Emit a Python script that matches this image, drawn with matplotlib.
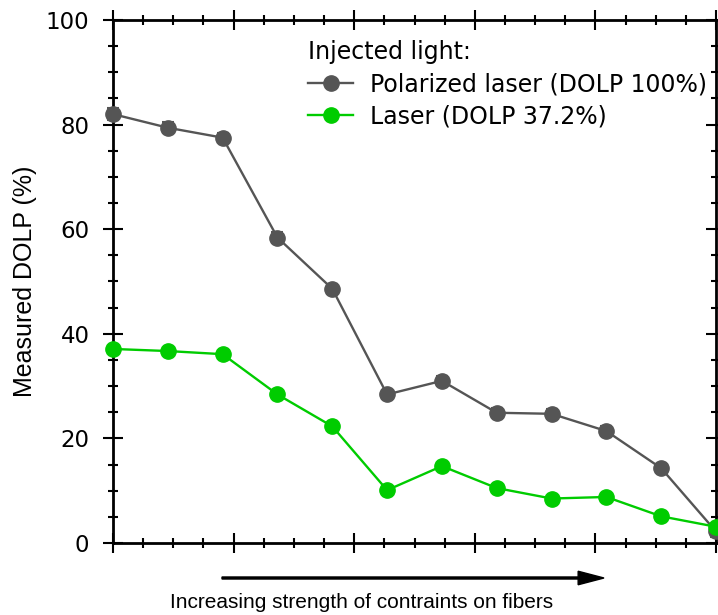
import numpy as np
import matplotlib
matplotlib.use('Agg')
import matplotlib.pyplot as plt
from matplotlib.lines import Line2D

#===================
# Datos
#===================
steps = np.arange(12)
polarized = [82.0, 79.4, 77.5, 58.4, 48.6, 28.4, 31.0, 24.9, 24.7, 21.4, 14.3, 2.2]
polarized_err = [1.2, 1.0, 0.9, 1.0, 1.0, 0.9, 1.0, 0.9, 0.9, 0.9, 0.8, 1.0]
laser = [37.1, 36.7, 36.1, 28.4, 22.3, 10.1, 14.7, 10.5, 8.5, 8.8, 5.1, 3.1]

label_pol = 'Polarized laser (DOLP 100%)'
label_las = 'Laser (DOLP 37.2%)'
gray = '#555555'
green = '#00cc00'

plt.rcParams['font.family'] = 'DejaVu Sans'

#===================
# Figura
#===================
fig = plt.figure(figsize=(7.18, 6.15), dpi=100)
ax = fig.add_axes([0.1574, 0.1171, 0.8398, 0.8504])

ax.errorbar(steps, polarized, yerr=polarized_err, color=gray, marker='o', ms=11,
            lw=1.7, capsize=4.5, capthick=1.5, elinewidth=1.5,
            clip_on=False, zorder=3)
ax.plot(steps, laser, color=green, marker='o', ms=11, lw=1.7,
        clip_on=False, zorder=4)

ax.set_xlim(0, 11)
ax.set_ylim(0, 100)
ax.set_xticks(np.linspace(0, 11, 6))
ax.set_xticks(np.linspace(0, 11, 21), minor=True)
ax.set_yticks(np.arange(0, 101, 20))
ax.set_yticks(np.arange(0, 101, 5), minor=True)
ax.set_xticklabels([])
ax.tick_params(which='both', direction='inout', top=True, right=True, width=1.5)
ax.tick_params(which='major', length=14, labelsize=16.5, pad=10)
ax.tick_params(which='minor', length=7)
for s in ax.spines.values():
    s.set_linewidth(2)

ax.set_ylabel('Measured DOLP (%)', fontsize=18, family='Liberation Sans', labelpad=6)

# Leyenda
handles = [Line2D([], [], color=gray, marker='o', ms=11, lw=1.7),
           Line2D([], [], color=green, marker='o', ms=11, lw=1.7)]
leg = ax.legend(handles, [label_pol, label_las], title='Injected light:',
                loc='upper right', frameon=False, fontsize=17, title_fontsize=17,
                bbox_to_anchor=(1.0, 0.98), handlelength=1.9, handletextpad=0.7,
                borderaxespad=0, labelspacing=0.35)
leg._legend_box.align = 'left'

# Flecha y etiqueta inferior
fig.patches.append(matplotlib.patches.FancyArrow(
    222 / 718, 1 - 578 / 615, (604 - 222) / 718, 0, width=0.0033, head_width=0.022,
    head_length=0.036, length_includes_head=True, color='black',
    transform=fig.transFigure, figure=fig))
fig.text(362 / 718, 1 - 603 / 615, 'Increasing strength of contraints on fibers',
         ha='center', va='center', fontsize=15, family='Liberation Sans')

fig.savefig('out.png', dpi=100)
